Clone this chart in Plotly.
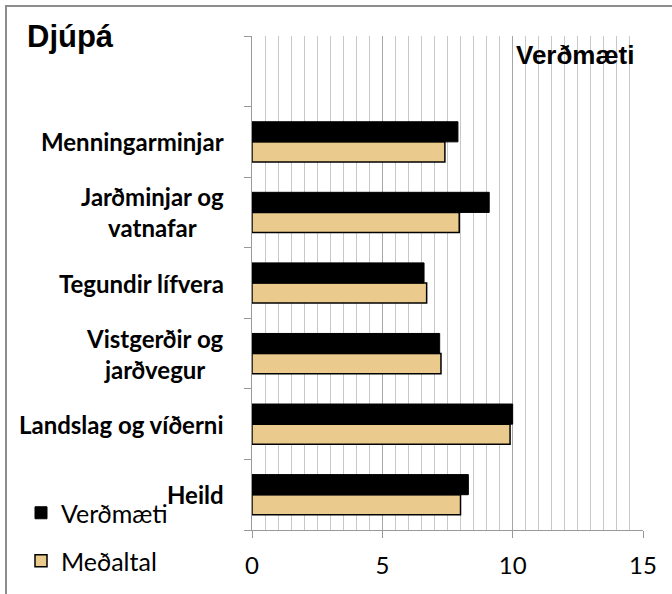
import plotly.graph_objects as go

categories = ["Heild", "Landslag og víðerni", "Vistgerðir og<br>jarðvegur", "Tegundir lífvera",
              "Jarðminjar og<br>vatnafar", "Menningarminjar", " "]
verdmaeti = [8.3, 10.0, 7.2, 6.6, 9.1, 7.9, None]
medaltal = [8.0, 9.9, 7.25, 6.7, 7.95, 7.4, None]
xticks = [0, 5, 10, 15]

W, H = 672, 594
L, R, T, B = 252, 29, 36, 64
pw, ph = W - L - R, H - T - B

def px2x(px):
    return (px - L) / pw

def py2y(py):
    return (H - B - py) / ph

fig = go.Figure()
fig.add_trace(go.Bar(y=categories, x=medaltal, orientation="h", name="Meðaltal",
                     marker=dict(color="#EACB8D", line=dict(color="black", width=1.5)),
                     legend="legend2"))
fig.add_trace(go.Bar(y=categories, x=verdmaeti, orientation="h", name="Verðmæti",
                     marker=dict(color="black", line=dict(color="black", width=1)),
                     legend="legend"))

FONT = "Lato"
annotations = []
for c in categories:
    if c.strip():
        annotations.append(dict(x=px2x(226), xref="paper", y=c, yref="y", text=c,
                                xanchor="right", yanchor="middle", align="center", showarrow=False,
                                font=dict(family=FONT, size=24, color="black", weight="bold")))
annotations.append(dict(x=px2x(575), xref="paper", y=py2y(55), yref="paper", text="<b>Verðmæti</b>",
                        showarrow=False, xanchor="center", yanchor="middle",
                        font=dict(family="Liberation Sans", size=26, color="black")))
annotations.append(dict(x=px2x(25), xref="paper", y=py2y(37), yref="paper", text="<b>Djúpá</b>",
                        showarrow=False, xanchor="left", yanchor="middle",
                        font=dict(family="Liberation Sans", size=31, color="black")))

fig.update_layout(
    width=W, height=H, margin=dict(l=L, r=R, t=T, b=B, pad=0, autoexpand=False),
    paper_bgcolor="white", plot_bgcolor="white",
    barmode="group", bargap=0.43, bargroupgap=0,
    showlegend=True,
    legend=dict(x=px2x(21), y=py2y(513), xanchor="left", yanchor="middle",
                font=dict(family=FONT, size=25, color="black"), bgcolor="rgba(0,0,0,0)",
                itemwidth=30, tracegroupgap=0),
    legend2=dict(x=px2x(21), y=py2y(561), xanchor="left", yanchor="middle",
                 font=dict(family=FONT, size=25, color="black"), bgcolor="rgba(0,0,0,0)",
                 itemwidth=30),
    annotations=annotations,
    shapes=[dict(type="rect", xref="paper", yref="paper", x0=px2x(6), x1=px2x(700),
                 y0=py2y(620), y1=py2y(6), line=dict(color="#8c8c8c", width=2), layer="below")],
    xaxis=dict(range=[0, 15], tickvals=xticks, ticktext=[str(v) for v in xticks],
               showgrid=True, gridcolor="#a6a6a6", gridwidth=1.3,
               minor=dict(dtick=0.5, showgrid=True, gridcolor="#c8c8c8", gridwidth=1),
               showline=True, linecolor="#999999", linewidth=1.3,
               ticks="outside", ticklen=7, tickcolor="#999999", ticklabelstandoff=7,
               tickfont=dict(family=FONT, size=24, color="black"), zeroline=False,
               fixedrange=True),
    yaxis=dict(type="category", categoryorder="array", categoryarray=categories,
               range=[-0.5, 6.5], showticklabels=False, tickson="boundaries",
               ticks="outside", ticklen=7, tickcolor="#999999",
               showline=True, linecolor="#999999", linewidth=1.3, showgrid=False, zeroline=False,
               fixedrange=True),
)

fig.write_html("out.html", config={"displayModeBar": False},
               post_script="document.body.style.margin='0px';")
